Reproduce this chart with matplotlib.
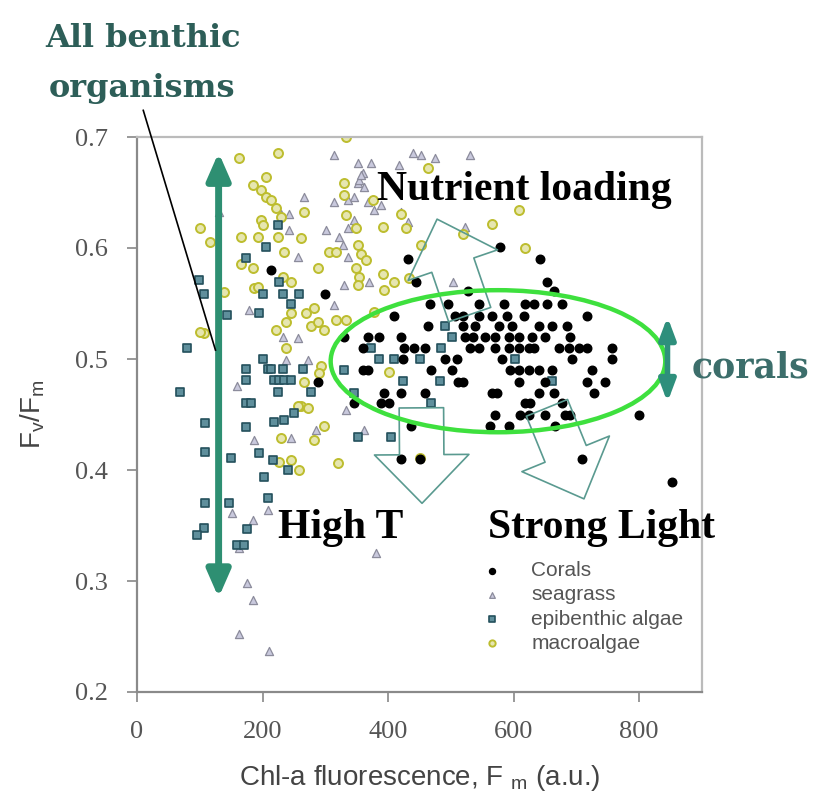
import matplotlib
matplotlib.use('Agg')
import matplotlib.pyplot as plt
from matplotlib.patches import Ellipse, FancyArrowPatch, ArrowStyle

# ---- data ----
coral_x = [578, 432, 642, 214, 445, 653, 528, 664, 299,
           466, 496, 544, 584, 618, 632, 653, 677,
           410, 506, 520, 544, 565, 589, 616, 717,
           464, 520, 538, 576, 597, 640, 661, 685,
           330, 368, 386, 421, 522, 536, 554, 570, 592, 608, 629, 650, 690,
           360, 426, 442, 458, 530, 544, 570, 592, 608, 624, 632, 672, 688, 704, 717, 757,
           424, 490, 510, 581, 693, 757,
           360, 368, 469, 501, 594, 608, 624, 640, 661, 725,
           288, 512, 520, 608, 650, 717, 746,
           394, 421, 458, 565, 573, 640, 664, 728,
           346, 389, 402, 618, 626, 677,
           570, 610, 624, 650, 682, 690, 800,
           437, 562, 592, 666,
           421, 450, 709,
           853]
coral_y = [0.601, 0.590, 0.590, 0.580, 0.569, 0.569, 0.561, 0.561, 0.559,
           0.550, 0.550, 0.550, 0.550, 0.550, 0.550, 0.550, 0.550,
           0.539, 0.539, 0.539, 0.539, 0.539, 0.539, 0.539, 0.539,
           0.530, 0.530, 0.530, 0.530, 0.530, 0.530, 0.530, 0.530,
           0.520, 0.520, 0.520, 0.520, 0.520, 0.520, 0.520, 0.520, 0.520, 0.520, 0.520, 0.520, 0.520,
           0.510, 0.510, 0.510, 0.510, 0.510, 0.510, 0.510, 0.510, 0.510, 0.510, 0.510, 0.510, 0.510, 0.510, 0.510, 0.510,
           0.500, 0.500, 0.500, 0.500, 0.500, 0.500,
           0.490, 0.490, 0.490, 0.490, 0.490, 0.490, 0.490, 0.490, 0.490, 0.490,
           0.479, 0.479, 0.479, 0.479, 0.479, 0.479, 0.479,
           0.469, 0.469, 0.469, 0.469, 0.469, 0.469, 0.469, 0.469,
           0.460, 0.460, 0.460, 0.460, 0.460, 0.460,
           0.450, 0.450, 0.450, 0.450, 0.450, 0.450, 0.450,
           0.440, 0.440, 0.440, 0.440,
           0.410, 0.410, 0.410,
           0.389]

seagrass_x = [314, 352, 373, 360, 418, 440, 453, 474, 530, 266, 352, 362, 346, 368, 378, 389, 336, 314,
              242, 229, 131, 301, 322, 336, 346, 328, 336, 256, 242, 314, 330, 370, 178, 232, 256, 237,
              272, 160, 432, 421, 522, 504, 285, 186, 245, 362, 333, 208, 184, 152, 381, 176, 162, 184,
              162, 211, 354, 357]
seagrass_y = [0.684, 0.677, 0.677, 0.668, 0.675, 0.686, 0.684, 0.681, 0.684, 0.646, 0.659, 0.655, 0.646,
              0.641, 0.634, 0.639, 0.643, 0.641, 0.631, 0.631, 0.632, 0.616, 0.610, 0.618, 0.625, 0.603,
              0.592, 0.592, 0.616, 0.549, 0.567, 0.569, 0.544, 0.520, 0.519, 0.499, 0.499, 0.476, 0.623,
              0.632, 0.619, 0.569, 0.436, 0.427, 0.429, 0.436, 0.454, 0.364, 0.355, 0.361, 0.325, 0.298,
              0.330, 0.283, 0.252, 0.237, 0.661, 0.666]

epi_x = [80, 69, 109, 109, 109, 106, 96, 144, 149, 146, 173, 173, 173, 181, 173, 194, 200, 208, 213, 232,
         264, 218, 226, 234, 245, 224, 277, 250, 218, 234, 194, 216, 240, 202, 208, 176, 160, 170, 352, 405,
         200, 232, 258, 245, 224, 205, 173, 226, 106, 98, 490, 501, 373, 485, 386, 410, 450, 602, 330, 424,
         482, 661, 346, 469]
epi_y = [0.510, 0.470, 0.442, 0.416, 0.370, 0.348, 0.341, 0.540, 0.411, 0.370, 0.491, 0.481, 0.460, 0.460,
         0.439, 0.541, 0.500, 0.491, 0.491, 0.491, 0.491, 0.481, 0.481, 0.481, 0.481, 0.470, 0.470, 0.451,
         0.443, 0.445, 0.415, 0.409, 0.400, 0.394, 0.375, 0.347, 0.332, 0.332, 0.430, 0.430, 0.559, 0.559,
         0.559, 0.550, 0.621, 0.601, 0.591, 0.569, 0.559, 0.571, 0.530, 0.520, 0.510, 0.510, 0.500, 0.500,
         0.500, 0.500, 0.490, 0.480, 0.480, 0.480, 0.469, 0.460]

macro_x = [163, 224, 205, 184, 197, 205, 213, 222, 229, 197, 200, 266, 165, 192, 224, 261, 234, 165, 184, 232,
           245, 186, 288, 330, 330, 376, 333, 349, 306, 317, 352, 357, 365, 349, 354, 352, 392, 392, 410, 394,
           421, 429, 269, 282, 237, 245, 277, 288, 298, 317, 333, 221, 237, 261, 272, 266, 378, 402, 101, 117,
           106, 464, 453, 333, 608, 565, 618, 520, 434, 138, 192, 293, 290, 256, 298, 282, 229, 245, 226, 258,
           320, 450, 101]
macro_y = [0.681, 0.686, 0.664, 0.657, 0.652, 0.646, 0.643, 0.636, 0.628, 0.625, 0.621, 0.632, 0.610, 0.610,
           0.610, 0.609, 0.596, 0.586, 0.582, 0.574, 0.569, 0.564, 0.582, 0.659, 0.648, 0.643, 0.630, 0.618,
           0.596, 0.596, 0.603, 0.595, 0.589, 0.582, 0.574, 0.567, 0.619, 0.577, 0.569, 0.562, 0.631, 0.618,
           0.541, 0.546, 0.533, 0.541, 0.530, 0.533, 0.526, 0.535, 0.535, 0.526, 0.510, 0.458, 0.456, 0.479,
           0.542, 0.488, 0.618, 0.605, 0.523, 0.672, 0.603, 0.700, 0.634, 0.622, 0.600, 0.613, 0.573, 0.560,
           0.565, 0.494, 0.487, 0.458, 0.440, 0.427, 0.429, 0.409, 0.407, 0.400, 0.406, 0.411, 0.524]

x_ticks = [0, 200, 400, 600, 800]
y_ticks = [0.2, 0.3, 0.4, 0.5, 0.6, 0.7]

plt.rcParams['font.family'] = ['Liberation Sans', 'DejaVu Sans']
plt.rcParams['mathtext.fontset'] = 'custom'
plt.rcParams['mathtext.rm'] = 'Liberation Sans'
plt.rcParams['mathtext.it'] = 'Liberation Sans'

fig = plt.figure(figsize=(8.14, 7.95), dpi=100)
ax = fig.add_axes([137 / 814, 1 - 692 / 795, 565 / 814, 555 / 795])

sg = ax.scatter(seagrass_x, seagrass_y, marker='^', s=34, facecolor='#c9c9dd', edgecolor='#8c8c9c',
                linewidths=0.9, zorder=2)
ma = ax.scatter(macro_x, macro_y, marker='o', s=42, facecolor='#e6e6b0', edgecolor='#bdbd2e',
                linewidths=1.4, zorder=2)
ep = ax.scatter(epi_x, epi_y, marker='s', s=34, facecolor='#5f8f9c', edgecolor='#24505c',
                linewidths=1.2, zorder=3)
co = ax.scatter(coral_x, coral_y, marker='o', s=38, facecolor='black', edgecolor='black', zorder=4)

ax.set_xlim(0, 900)
ax.set_ylim(0.2, 0.7)
ax.set_xticks(x_ticks)
ax.set_yticks(y_ticks)
ax.set_yticklabels([f'{v:.1f}' for v in y_ticks])
ax.tick_params(direction='out', length=7, width=1.2, color='#888888', labelcolor='#555555',
               labelsize=19, pad=14)
for lab in ax.get_xticklabels() + ax.get_yticklabels():
    lab.set_fontfamily('Liberation Serif')
for side in ['left', 'bottom']:
    ax.spines[side].set_color('#8a8a8a')
    ax.spines[side].set_linewidth(1.6)
for side in ['top', 'right']:
    ax.spines[side].set_color('#bbbbbb')
    ax.spines[side].set_linewidth(1.6)

ax.set_xlabel(r'Chl-a fluorescence, F $_{\mathrm{m}}$ (a.u.)', fontsize=20, color='#444444', labelpad=14)
ax.set_ylabel(r'F$_{\mathrm{v}}$/F$_{\mathrm{m}}$', fontsize=20, color='#444444', labelpad=20)

leg = ax.legend([co, sg, ep, ma], ['Corals', 'seagrass', 'epibenthic algae', 'macroalgae'],
                loc='upper left', bbox_to_anchor=(0.565, 0.262), frameon=False, fontsize=15,
                handletextpad=0.9, labelspacing=0.25, markerscale=0.7, borderpad=0.2)
for t in leg.get_texts():
    t.set_color('#555555')

# green ellipse round the corals
ax.add_patch(Ellipse((575, 0.498), 533, 0.128, fill=False, edgecolor='#3ee03e', linewidth=3.2, zorder=6))

# solid teal double arrows
ax.add_patch(FancyArrowPatch((130, 0.686), (130, 0.285), arrowstyle='<|-|>,head_length=0.8,head_width=0.35',
                             mutation_scale=20, color='#2e8f72', linewidth=5, shrinkA=0, shrinkB=0, zorder=7))
ax.add_patch(FancyArrowPatch((845, 0.538), (845, 0.461), arrowstyle='<|-|>,head_length=0.8,head_width=0.3',
                             mutation_scale=16, color='#2e8f7c', linewidth=4, shrinkA=0, shrinkB=0,
                             zorder=7, clip_on=False))

# hollow arrows
hollow = ArrowStyle.Simple(head_length=35, head_width=68, tail_width=32)
for tail, tip in [((530, 0.540), (478, 0.626)),
                  ((453, 0.456), (454, 0.370)),
                  ((653, 0.456), (712, 0.374))]:
    ax.add_patch(FancyArrowPatch(tail, tip, arrowstyle=hollow, mutation_scale=1, shrinkA=0, shrinkB=0,
                                 facecolor='none', edgecolor='#5a9a90', linewidth=1.2, zorder=5))

# pointer line from the label
ax.plot([10, 125], [0.724, 0.508], color='black', linewidth=1.2, clip_on=False, zorder=7)

# annotation texts
teal_dark = '#2d5e58'
fig.text(45 / 814, 1 - 47 / 795, 'All benthic', fontsize=23, fontweight='bold', family='DejaVu Serif',
         color=teal_dark, va='baseline')
fig.text(49 / 814, 1 - 97 / 795, 'organisms', fontsize=23, fontweight='bold', family='DejaVu Serif',
         color=teal_dark, va='baseline')
fig.text(692 / 814, 1 - 378 / 795, 'corals', fontsize=25, fontweight='bold', family='DejaVu Serif',
         color='#3c6e6b', va='baseline')
fig.text(377 / 814, 1 - 200 / 795, 'Nutrient loading', fontsize=30, fontweight='bold',
         family='Liberation Serif', color='black', va='baseline')
fig.text(278 / 814, 1 - 538 / 795, 'High T', fontsize=30, fontweight='bold',
         family='Liberation Serif', color='black', va='baseline')
fig.text(488 / 814, 1 - 538 / 795, 'Strong Light', fontsize=30, fontweight='bold',
         family='Liberation Serif', color='black', va='baseline')

fig.savefig('out.png', dpi=100)
